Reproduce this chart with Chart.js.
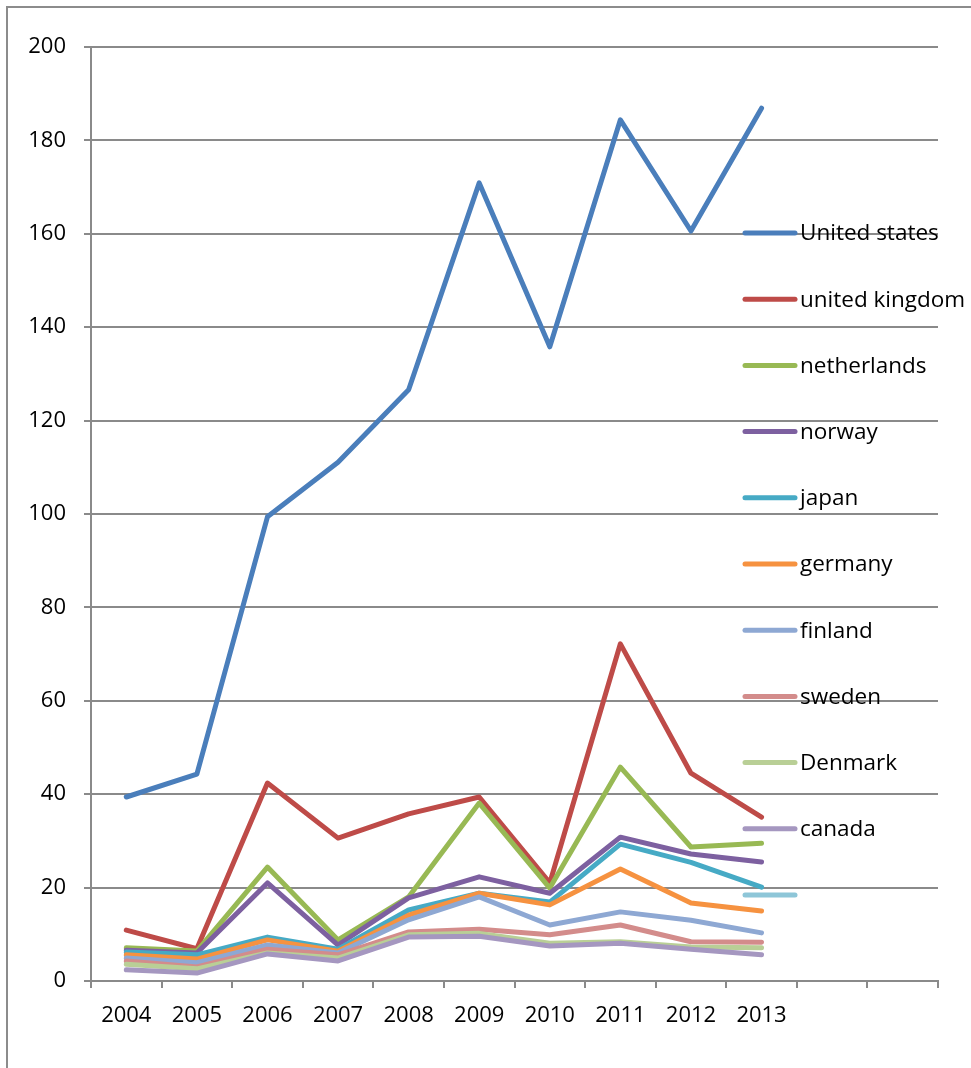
<!DOCTYPE html>
<html>
<head>
<meta charset="utf-8">
<script src="https://cdn.jsdelivr.net/npm/chart.js@4/dist/chart.umd.min.js"></script>
<style>
    html, body { margin: 0; padding: 0; background: #fff; }
    #frame {
        position: absolute; left: 0; top: 0; width: 971px; height: 1068px;
    }
    #edge {
        position: absolute; left: 6px; top: 6px; width: 965px; height: 1062px;
        border-top: 2px solid #8c8c8c; border-left: 2px solid #8c8c8c;
        box-sizing: border-box;
    }
</style>
</head>
<body>
<div id="frame">
    <div id="edge"></div>
    <canvas id="chart" width="971" height="1068"></canvas>
</div>
<script>
// Years on the x axis (two empty slots keep the axis running past 2013)
var years = ['2004', '2005', '2006', '2007', '2008', '2009', '2010', '2011', '2012', '2013', '', ''];
var yTicks = [0, 20, 40, 60, 80, 100, 120, 140, 160, 180, 200];

var unitedStates  = [39.4, 44.3, 99.4, 111.1, 126.6, 170.9, 135.8, 184.4, 160.6, 186.9];
var unitedKingdom = [10.9, 6.9, 42.4, 30.6, 35.8, 39.4, 21.0, 72.2, 44.5, 35.1];
var netherlands   = [7.1, 6.4, 24.4, 8.8, 18.0, 38.1, 19.9, 45.8, 28.7, 29.5];
var norway        = [6.6, 6.0, 21.0, 7.7, 17.8, 22.3, 18.8, 30.8, 27.2, 25.5];
var japan         = [6.2, 5.6, 9.4, 6.8, 15.2, 18.8, 16.9, 29.3, 25.4, 20.1];
var germany       = [5.6, 4.7, 8.8, 6.4, 14.1, 18.8, 16.3, 24.0, 16.7, 15.0];
var finland       = [4.9, 3.9, 7.7, 6.0, 13.1, 18.0, 12.0, 14.8, 13.0, 10.3];
var sweden        = [4.3, 3.0, 6.8, 5.6, 10.5, 11.1, 9.9, 12.0, 8.4, 8.3];
var denmark       = [3.6, 2.6, 6.0, 4.9, 9.9, 10.2, 8.1, 8.4, 7.3, 7.1];
var canada        = [2.4, 1.7, 5.8, 4.3, 9.4, 9.6, 7.5, 8.1, 6.8, 5.6];
var unnamed       = [];

var seriesNames = ['United states', 'united kingdom', 'netherlands', 'norway', 'japan',
                   'germany', 'finland', 'sweden', 'Denmark', 'canada', ''];
var seriesData = [unitedStates, unitedKingdom, netherlands, norway, japan,
                  germany, finland, sweden, denmark, canada, unnamed];
var seriesColors = ['#4a7ebb', '#be4b48', '#98b954', '#7d60a0', '#46aac5',
                    '#f69240', '#8ea8d3', '#d38c8b', '#b9cf96', '#a597c0', '#8ec6d8'];

var FONT = '"Open Sans", "Noto Sans", sans-serif';
var GRID = '#8a8a8a';

// Legend sits inside the plot area on the right, one entry per series
var sideLegend = {
    id: 'sideLegend',
    afterDraw: function(chart) {
        var ctx = chart.ctx;
        ctx.save();
        ctx.font = '22.5px ' + FONT;
        ctx.textBaseline = 'middle';
        ctx.lineCap = 'round';
        chart.data.datasets.forEach(function(ds, i) {
            var y = 233 + i * 66.2;
            ctx.strokeStyle = ds.borderColor;
            ctx.lineWidth = 5;
            ctx.beginPath();
            ctx.moveTo(745, y);
            ctx.lineTo(795, y);
            ctx.stroke();
            ctx.fillStyle = '#000';
            ctx.fillText(ds.label, 800, y + 1);
        });
        ctx.restore();
    }
};

var datasets = seriesData.map(function(values, i) {
    return {
        label: seriesNames[i],
        data: values,
        borderColor: seriesColors[i],
        backgroundColor: seriesColors[i],
        borderWidth: 5,
        borderCapStyle: 'round',
        borderJoinStyle: 'round',
        pointRadius: 0,
        tension: 0,
        fill: false,
        order: -i
    };
});

var ctx = document.getElementById('chart').getContext('2d');
var chart = new Chart(ctx, {
    type: 'line',
    data: { labels: years, datasets: datasets },
    options: {
        responsive: false,
        animation: false,
        layout: { padding: { left: 0, right: 33, top: 47, bottom: 0 } },
        plugins: { legend: { display: false }, tooltip: { enabled: false } },
        scales: {
            x: {
                offset: true,
                grid: {
                    offset: true,
                    drawOnChartArea: false,
                    drawTicks: true,
                    tickLength: 7,
                    color: GRID,
                    lineWidth: 2
                },
                border: { color: GRID, width: 2 },
                ticks: {
                    color: '#000',
                    font: { family: FONT, size: 22 },
                    padding: 15,
                    maxRotation: 0,
                    autoSkip: false
                },
                afterFit: function(scale) { scale.height = 87; }
            },
            y: {
                min: 0,
                max: 200,
                afterBuildTicks: function(scale) {
                    scale.ticks = yTicks.map(function(v) { return { value: v }; });
                },
                grid: {
                    color: GRID,
                    lineWidth: 2,
                    tickLength: 7
                },
                border: { color: GRID, width: 2 },
                ticks: {
                    color: '#000',
                    font: { family: FONT, size: 22 },
                    padding: 18
                },
                afterFit: function(scale) { scale.width = 91; }
            }
        }
    },
    plugins: [sideLegend]
});
</script>
</body>
</html>
